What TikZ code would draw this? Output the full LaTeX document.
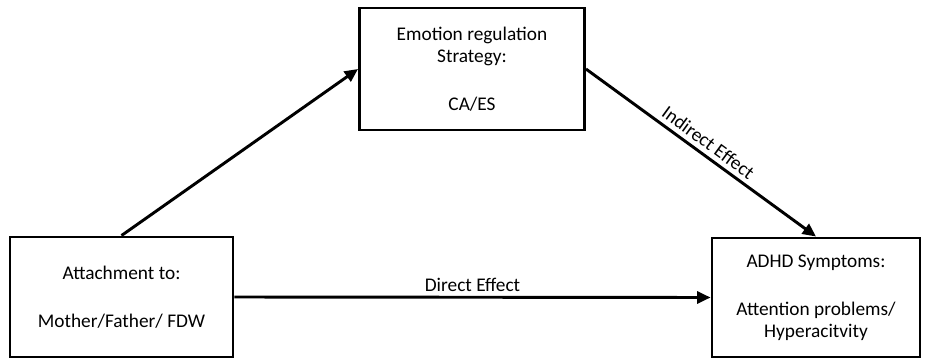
\documentclass[tikz,border=0pt]{standalone}
\usepackage{fontspec}
\setmainfont{Carlito}
\usetikzlibrary{arrows.meta}

\begin{document}
\begin{tikzpicture}[x=0.75pt, y=-0.75pt]
	\tikzstyle{box} = [ draw, rectangle, line width=2.2pt, align=center, font={\fontsize{14.5}{16.5}\selectfont}, inner sep=0pt];
	\tikzstyle{effect} = [ -{Triangle[length=10pt, width=9pt]}, line width=2.2pt, font={\fontsize{14.5}{16}\selectfont}];

	\useasboundingbox (0,0) rectangle (925,360);

	\node[box, minimum width=223*0.75pt, minimum height=120*0.75pt] (attach) at (121.5,297) {Attachment to:\\[19.5pt]Mother/Father/ FDW};
	\node[box, minimum width=225*0.75pt, minimum height=122*0.75pt] (emotion) at (472,69) {Emotion regulation\\Strategy:\\[19.5pt]CA/ES};
	\node[box, minimum width=208*0.75pt, minimum height=119*0.75pt] (adhd) at (816,297.5) {ADHD Symptoms:\\[19.5pt]Attention problems/\\Hyperacitvity};

	\coordinate (a1) at (attach.north);
	\draw[effect] (a1) -- (emotion.west);
	\draw[effect] (emotion.east) -- node[above, sloped, pos=0.5] {Indirect Effect} (adhd.north);
	\draw[effect] (attach.east) -- node[above] {Direct Effect} (adhd.west);

\end{tikzpicture}
\end{document}
